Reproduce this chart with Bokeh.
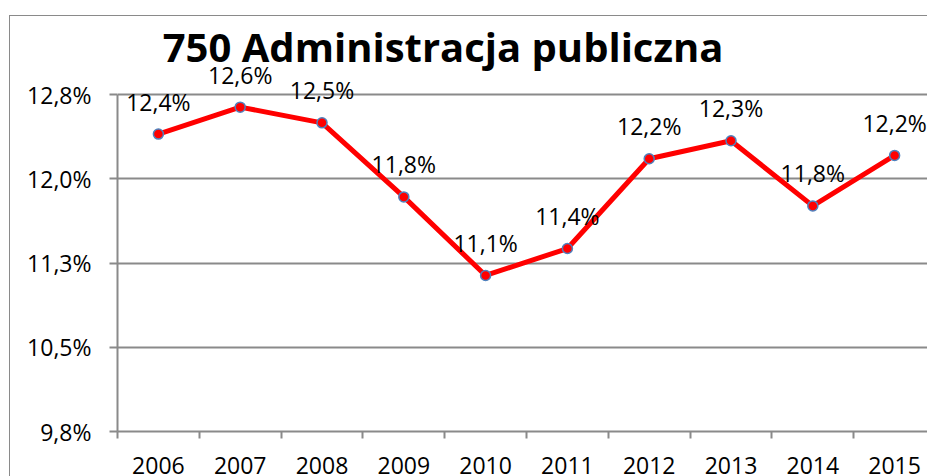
from bokeh.plotting import figure
from bokeh.models import (Range1d, FixedTicker, ColumnDataSource, LabelSet, Label,
                          InlineStyleSheet)
from bokeh.core.properties import value
from bokeh.embed import file_html
from bokeh.resources import INLINE

# ---- data ----
title_text = "750 Administracja publiczna"
years = ["2006", "2007", "2008", "2009", "2010", "2011", "2012", "2013", "2014", "2015"]
values = [12.40, 12.64, 12.50, 11.84, 11.14, 11.38, 12.18, 12.34, 11.76, 12.21]
y_ticks = [9.75, 10.5, 11.25, 12.0, 12.75]
y_tick_labels = ["9,8%", "10,5%", "11,3%", "12,0%", "12,8%"]

FONT = "Open Sans"
GRAY = "#8a8a8a"
FS = "23px"

xs = [i + 0.5 for i in range(len(years))]
bounds = [i for i in range(len(years) + 1)]
labels = [("%.1f" % v).replace(".", ",") + "%" for v in values]

src = ColumnDataSource(dict(x=xs, y=values, lab=labels))

p = figure(width=927, height=476,
           x_range=Range1d(0, 9.902), y_range=Range1d(y_ticks[0], 13.59),
           output_backend="svg", toolbar_location=None,
           min_border_left=117, min_border_right=0, min_border_top=0, min_border_bottom=45)
p.outline_line_color = None
p.background_fill_color = "white"
p.border_fill_color = "white"

# outer chart border (frame of the embedded Excel chart)
p.stylesheets = [InlineStyleSheet(css=(
    ":host{position:relative;}"
    ":host::after{content:'';position:absolute;left:9px;top:15px;right:0;bottom:0;"
    "border-left:1.5px solid #8a8a8a;border-top:1.5px solid #8a8a8a;"
    "pointer-events:none;z-index:10;}"))]

# y axis
yt = FixedTicker(ticks=y_ticks)
p.yaxis.ticker = yt
p.yaxis.bounds = (y_ticks[0], y_ticks[-1])
p.yaxis.major_label_overrides = {t: l for t, l in zip(y_ticks, y_tick_labels)}
p.yaxis.axis_line_color = GRAY
p.yaxis.axis_line_width = 2
p.yaxis.major_tick_line_color = GRAY
p.yaxis.major_tick_line_width = 2
p.yaxis.major_tick_out = 8
p.yaxis.major_tick_in = 0
p.yaxis.minor_tick_line_color = None
p.yaxis.major_label_standoff = 18
p.yaxis.major_label_text_font = FONT
p.yaxis.major_label_text_font_size = FS
p.yaxis.major_label_text_color = "black"

p.ygrid.ticker = yt
p.ygrid.grid_line_color = GRAY
p.ygrid.grid_line_width = 2
p.xgrid.grid_line_color = None

# x axis
xt = FixedTicker(ticks=xs, minor_ticks=bounds)
p.xaxis.ticker = xt
p.xaxis.major_label_overrides = {x: y for x, y in zip(xs, years)}
p.xaxis.axis_line_color = GRAY
p.xaxis.axis_line_width = 2
p.xaxis.major_tick_line_color = None
p.xaxis.major_tick_out = 0
p.xaxis.major_tick_in = 0
p.xaxis.minor_tick_line_color = GRAY
p.xaxis.minor_tick_line_width = 2
p.xaxis.minor_tick_out = 7
p.xaxis.minor_tick_in = 0
p.xaxis.major_label_standoff = 18
p.xaxis.major_label_text_font = FONT
p.xaxis.major_label_text_font_size = FS
p.xaxis.major_label_text_color = "black"

# series
p.line("x", "y", source=src, line_color="#ff0000", line_width=5, line_join="round")
p.scatter("x", "y", source=src, size=10, fill_color="#ff0000",
          line_color="#4f81bd", line_width=1.5)

p.add_layout(LabelSet(x="x", y="y", text="lab", source=src, y_offset=23.5,
                      text_align="center", text_baseline="alphabetic",
                      text_font=value(FONT), text_font_size=value(FS),
                      text_color="black"))

# title
p.add_layout(Label(x=3.98, y=13.18, text=title_text, text_align="center",
                   text_baseline="alphabetic", text_font=FONT, text_font_style="bold",
                   text_font_size="40px", text_color="black"))

open("out.html", "w").write(file_html(p, INLINE))
